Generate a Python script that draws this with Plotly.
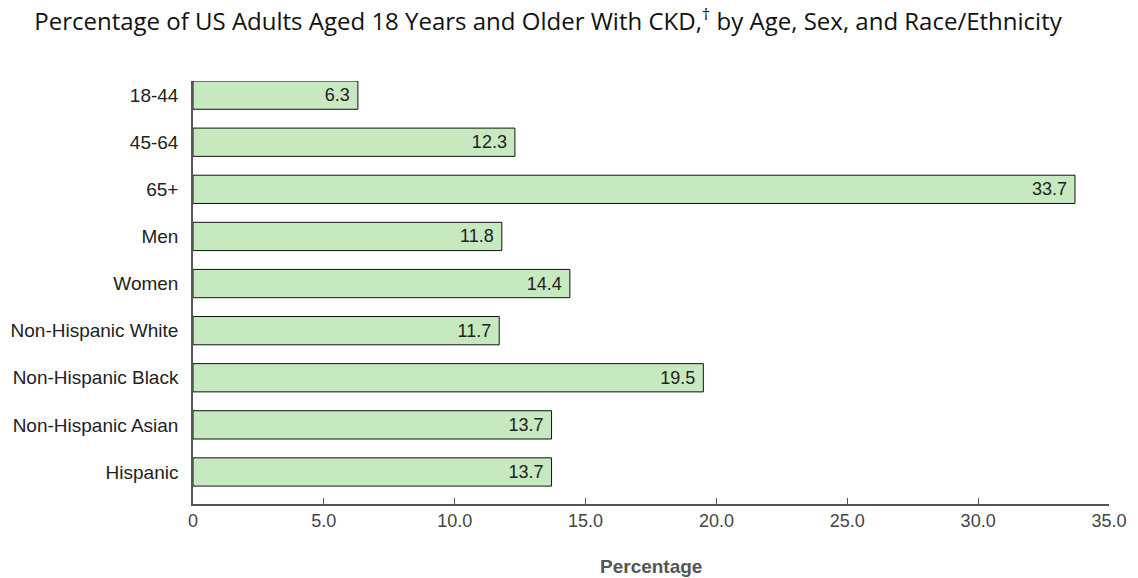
import plotly.graph_objects as go

categories = ["18-44", "45-64", "65+", "Men", "Women", "Non-Hispanic White",
              "Non-Hispanic Black", "Non-Hispanic Asian", "Hispanic"]
values = [6.3, 12.3, 33.7, 11.8, 14.4, 11.7, 19.5, 13.7, 13.7]
x_ticks = [0, 5, 10, 15, 20, 25, 30, 35]
x_tick_labels = ["0", "5.0", "10.0", "15.0", "20.0", "25.0", "30.0", "35.0"]

fig = go.Figure(go.Bar(
    x=values, y=categories, orientation="h",
    marker=dict(color="#c7e9c0", line=dict(color="#111111", width=1)),
    width=0.6,
    text=[f"{v:.1f} " for v in values],
    textposition="inside", insidetextanchor="end", constraintext="none",
    textfont=dict(family="Liberation Sans, Arial", size=18, color="#222222"),
    hoverinfo="skip",
))

fig.update_layout(
    width=1138, height=578,
    margin=dict(l=193, r=29, t=81, b=74),
    paper_bgcolor="white", plot_bgcolor="white",
    showlegend=False,
    title=dict(
        text="Percentage of US Adults Aged 18 Years and Older With CKD,<sup>†</sup> by Age, Sex, and Race/Ethnicity",
        font=dict(family="Open Sans", size=24, color="#111111", weight=500),
        x=548/1138, xanchor="center", y=1 - 22/578, yanchor="middle",
    ),
    xaxis=dict(
        range=[0, 35], tickvals=x_ticks, ticktext=x_tick_labels,
        showgrid=False, zeroline=False, automargin=False,
        showline=True, linecolor="#555555", linewidth=1.5,
        ticks="inside", ticklen=6, tickcolor="#555555",
        tickfont=dict(family="Liberation Sans, Arial", size=18, color="#444444"),
    ),
    yaxis=dict(
        range=[8.68, -0.30], showgrid=False, zeroline=False, automargin=False,
        showline=True, linecolor="#555555", linewidth=1.5,
        ticks="outside", ticklen=9, tickcolor="rgba(0,0,0,0)",
        tickfont=dict(family="Liberation Sans, Arial", size=19, color="#222222"),
    ),
    bargap=0.4,
    annotations=[dict(
        text="<b>Percentage</b>", xref="paper", yref="paper",
        x=0.5, xanchor="center", y=-62/423, yanchor="middle", showarrow=False,
        font=dict(family="Liberation Sans, Arial", size=19, color="#555555"),
    )],
)

fig.write_html("out.html")
